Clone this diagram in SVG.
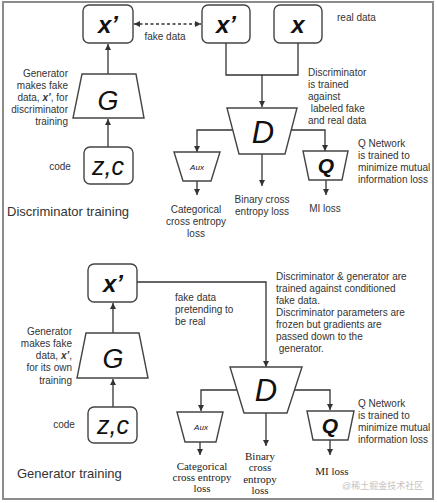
<svg xmlns="http://www.w3.org/2000/svg" width="437" height="503" viewBox="0 0 437 503">
<defs>
<marker id="ah" viewBox="0 0 6 6" refX="6" refY="3" markerWidth="6" markerHeight="6" markerUnits="userSpaceOnUse" orient="auto-start-reverse">
<path d="M0,0 L6,3 L0,6 z" fill="#333"/>
</marker>
<style>
.box{fill:#fff;stroke:#444;stroke-width:1.4}
.ln{fill:none;stroke:#333;stroke-width:1.3}
.arr{fill:none;stroke:#333;stroke-width:1.3;marker-end:url(#ah)}
.t{font-family:"Liberation Sans",Arial,sans-serif;font-size:10px;fill:#333}
.ts{font-family:"Liberation Serif","Times New Roman",serif;font-size:11px;fill:#222}
.big{font-family:"Liberation Sans",Arial,sans-serif;font-style:italic;fill:#111}
.title{font-family:"Liberation Sans",Arial,sans-serif;font-size:13px;fill:#333}
.r{text-anchor:end}
.m{text-anchor:middle}
</style>
</defs>
<rect x="0" y="0" width="437" height="503" fill="#fff"/>
<rect x="3" y="2" width="430" height="497" fill="none" stroke="#8c8c8c" stroke-width="2"/>

<g id="connectors">
<line x1="134" y1="24" x2="201" y2="24" class="arr" stroke-dasharray="3,2.5" marker-start="url(#ah)"/>
<path d="M108,74 V44" class="arr"/>
<path d="M108,147 V119" class="arr"/>
<path d="M226,43 V75 H298 V43" class="ln"/>
<path d="M262,75 V107" class="arr"/>
<path d="M233,130 H197 V152" class="arr"/>
<path d="M291,130 H325 V151" class="arr"/>
<path d="M262,154 V186" class="arr"/>
<path d="M197,181 V195" class="arr"/>
<path d="M326,180 V195" class="arr"/>

<path d="M113,333 V303" class="arr"/>
<path d="M113,407 V379" class="arr"/>
<path d="M137,282 H266 V367" class="arr"/>
<path d="M237,390 H201 V411" class="arr"/>
<path d="M295,390 H330 V410" class="arr"/>
<path d="M266,413 V446" class="arr"/>
<path d="M200,442 V455" class="arr"/>
<path d="M330,440 V455" class="arr"/>
</g>

<g id="top-xfake1">
<rect x="83" y="5" width="50" height="38" rx="6" class="box"/>
<text x="108" y="33" class="big m" font-size="24" font-weight="bold">x’</text>
</g>
<g id="top-xfake2">
<rect x="202" y="5" width="48" height="38" rx="6" class="box"/>
<text x="226" y="33" class="big m" font-size="24" font-weight="bold">x’</text>
</g>
<g id="top-xreal">
<rect x="274" y="5" width="48" height="38" rx="6" class="box"/>
<text x="298" y="33" class="big m" font-size="24" font-weight="bold">x</text>
</g>
<g id="top-G">
<polygon points="82,74 136,74 144,118 73,118" class="box"/>
<text x="108" y="110" class="big m" font-size="27">G</text>
</g>
<g id="top-zc">
<rect x="84" y="147" width="49" height="37" rx="6" class="box"/>
<text x="108" y="175" class="big m" font-size="25">z,c</text>
</g>
<g id="top-D">
<polygon points="227,108 297,108 285,154 239,154" class="box"/>
<text x="263" y="143" class="big m" font-size="31">D</text>
</g>
<g id="top-Aux">
<polygon points="174,152 220,152 211,181 183,181" class="box"/>
<text x="197" y="170" class="big m" font-size="8">Aux</text>
</g>
<g id="top-Q">
<polygon points="303,151 348,151 342,180 309,180" class="box"/>
<text x="326" y="173" class="big m" font-size="21" font-weight="bold">Q</text>
</g>

<g id="top-labels">
<text x="165" y="40" class="t m">fake data</text>
<text x="337" y="21" class="t">real data</text>
<text class="t r"><tspan x="68" y="77">Generator</tspan><tspan x="68" y="89">makes fake</tspan><tspan x="68" y="101">data, <tspan font-weight="bold" font-style="italic">x’</tspan>, for</tspan><tspan x="68" y="113">discriminator</tspan><tspan x="68" y="125">training</tspan></text>
<text x="60" y="170" class="t m">code</text>
<text x="7" y="216" class="title">Discriminator training</text>
<text class="t"><tspan x="308" y="76">Discriminator</tspan><tspan x="308" y="88">is trained</tspan><tspan x="308" y="100">against</tspan><tspan x="308" y="112"> labeled fake</tspan><tspan x="308" y="124">and real data</tspan></text>
<text class="t"><tspan x="358" y="147">Q Network</tspan><tspan x="358" y="159">is trained to</tspan><tspan x="358" y="171">minimize mutual</tspan><tspan x="358" y="183">information loss</tspan></text>
<text class="t m"><tspan x="196" y="213">Categorical</tspan><tspan x="196" y="225">cross entropy</tspan><tspan x="196" y="237">loss</tspan></text>
<text class="t m"><tspan x="262" y="203">Binary cross</tspan><tspan x="262" y="215">entropy loss</tspan></text>
<text x="325" y="212" class="t m">MI loss</text>
</g>

<g id="bot-xfake">
<rect x="88" y="264" width="49" height="38" rx="6" class="box"/>
<text x="113" y="292" class="big m" font-size="24" font-weight="bold">x’</text>
</g>
<g id="bot-G">
<polygon points="86,333 139,333 148,378 77,378" class="box"/>
<text x="113" y="368" class="big m" font-size="27">G</text>
</g>
<g id="bot-zc">
<rect x="88" y="407" width="49" height="36" rx="6" class="box"/>
<text x="113" y="434" class="big m" font-size="25">z,c</text>
</g>
<g id="bot-D">
<polygon points="230,367 302,367 287,413 244,413" class="box"/>
<text x="266" y="401" class="big m" font-size="31">D</text>
</g>
<g id="bot-Aux">
<polygon points="177,412 223,412 216,442 185,442" class="box"/>
<text x="201" y="430" class="big m" font-size="8">Aux</text>
</g>
<g id="bot-Q">
<polygon points="307,411 354,411 348,440 313,440" class="box"/>
<text x="330" y="433" class="big m" font-size="21" font-weight="bold">Q</text>
</g>

<g id="bot-labels">
<text class="t"><tspan x="175" y="301">fake data</tspan><tspan x="175" y="313">pretending to</tspan><tspan x="175" y="325">be real</tspan></text>
<text class="t"><tspan x="276" y="280">Discriminator &amp;  generator are</tspan><tspan x="276" y="292">trained against conditioned</tspan><tspan x="276" y="304">fake data.</tspan><tspan x="276" y="316">Discriminator parameters are</tspan><tspan x="276" y="328">frozen but gradients are</tspan><tspan x="276" y="340">passed down to the</tspan><tspan x="276" y="352"> generator.</tspan></text>
<text class="t r"><tspan x="72" y="335">Generator</tspan><tspan x="72" y="347">makes fake</tspan><tspan x="72" y="359">data, <tspan font-weight="bold" font-style="italic">x’</tspan>,</tspan><tspan x="72" y="371">for its own</tspan><tspan x="72" y="384">training</tspan></text>
<text x="64" y="428" class="t m">code</text>
<text x="17" y="478" class="title">Generator training</text>
<text class="t"><tspan x="358" y="407">Q Network</tspan><tspan x="358" y="419">is trained to</tspan><tspan x="358" y="431">minimize mutual</tspan><tspan x="358" y="443">information loss</tspan></text>
<text class="ts m"><tspan x="202" y="470">Categorical</tspan><tspan x="202" y="481">cross entropy</tspan><tspan x="202" y="492">loss</tspan></text>
<text class="ts m"><tspan x="260" y="460">Binary</tspan><tspan x="260" y="471">cross</tspan><tspan x="260" y="483">entropy</tspan><tspan x="260" y="494">loss</tspan></text>
<text x="332" y="475" class="ts m">MI loss</text>
<text x="342" y="489" font-family="'Liberation Sans','Noto Sans CJK SC',sans-serif" font-size="9" fill="#c4c4c4">@稀土掘金技术社区</text>
</g>
</svg>
